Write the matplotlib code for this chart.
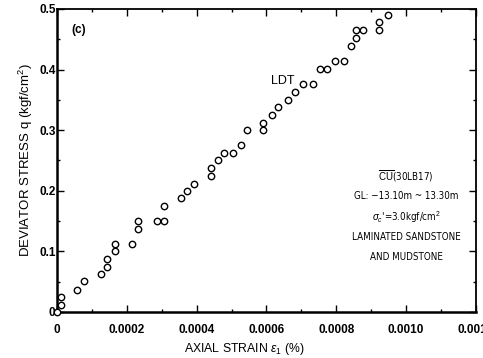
import numpy as np
import matplotlib
matplotlib.use('Agg')
import matplotlib.pyplot as plt
from matplotlib import font_manager
from matplotlib.ticker import MultipleLocator

plt.rcParams['font.family'] = ['Liberation Sans', 'DejaVu Sans']
plt.rcParams['mathtext.fontset'] = 'custom'
plt.rcParams['mathtext.rm'] = 'Liberation Sans'
plt.rcParams['mathtext.it'] = 'Liberation Sans:italic'

# pick a condensed face for the note block if one is installed
fonts = font_manager.fontManager.ttflist
names = {f.name for f in fonts}
note_font = dict(family='Liberation Sans', fontsize=6.6)
if 'Liberation Sans Narrow' in names:
    note_font = dict(family='Liberation Sans Narrow', fontsize=7.6)
elif any(f.name == 'DejaVu Sans' and 'condensed' in str(f.stretch) for f in fonts):
    note_font = dict(family='DejaVu Sans', fontstretch='condensed', fontsize=7.0)

# axial strain (%) and deviator stress q (kgf/cm2), LDT readings
strain = [0.0, 0.0000115, 0.0000115, 0.0000585, 0.0000768, 0.000125, 0.000144, 0.000144,
          0.000165, 0.000165, 0.000214, 0.000233, 0.000233, 0.000287, 0.000306, 0.000306,
          0.000354, 0.000372, 0.000392, 0.00044, 0.00044, 0.00046, 0.000477, 0.000505,
          0.000526, 0.000544, 0.000591, 0.000591, 0.000615, 0.000633, 0.000663, 0.000683,
          0.000704, 0.000734, 0.000753, 0.000774, 0.000795, 0.000821, 0.000841, 0.000857,
          0.000857, 0.000876, 0.000923, 0.000923, 0.000947]
stress = [0.0, 0.0115, 0.025, 0.037, 0.051, 0.062, 0.075, 0.0875,
          0.100, 0.113, 0.113, 0.1375, 0.150, 0.150, 0.150, 0.175,
          0.1875, 0.200, 0.212, 0.224, 0.2376, 0.250, 0.262, 0.262,
          0.275, 0.300, 0.300, 0.3125, 0.325, 0.338, 0.350, 0.3635,
          0.3757, 0.3757, 0.401, 0.401, 0.414, 0.414, 0.439, 0.452,
          0.465, 0.465, 0.465, 0.478, 0.4906]

xticks = [0, 0.0002, 0.0004, 0.0006, 0.0008, 0.0010, 0.0012]
xticklabels = ['0', '0.0002', '0.0004', '0.0006', '0.0008', '0.0010', '0.0012']
yticks = [0, 0.1, 0.2, 0.3, 0.4, 0.5]
yticklabels = ['0', '0.1', '0.2', '0.3', '0.4', '0.5']

notes = [r'$\overline{\mathrm{CU}}$(30LB17)',
         'GL: \u221213.10m ~ 13.30m',
         r"$\sigma_c$'=3.0kgf/cm$^2$",
         'LAMINATED SANDSTONE',
         'AND MUDSTONE']
note_y = [0.2244, 0.1914, 0.1568, 0.1238, 0.0908]

fig = plt.figure(figsize=(4.83, 3.58), dpi=100)
ax = fig.add_axes([0.118, 0.1285, 0.8675, 0.8465])

ax.plot(strain, stress, linestyle='none', marker='o', markersize=4.6,
        markerfacecolor='white', markeredgecolor='black', markeredgewidth=1.0,
        clip_on=False, zorder=3)

ax.set_xlim(0, 0.0012)
ax.set_ylim(0, 0.5)
ax.set_xticks(xticks)
ax.set_xticklabels(xticklabels)
ax.set_yticks(yticks)
ax.set_yticklabels(yticklabels)
ax.xaxis.set_minor_locator(MultipleLocator(0.0001))
ax.yaxis.set_minor_locator(MultipleLocator(0.05))

for lab in ax.get_xticklabels() + ax.get_yticklabels():
    lab.set_fontweight('bold')
    lab.set_fontsize(8.5)

ax.tick_params(which='both', direction='in', top=True, right=True, width=1.0)
ax.tick_params(which='major', length=5)
ax.tick_params(axis='x', which='major', pad=9)
ax.tick_params(axis='y', which='major', pad=1)
ax.tick_params(which='minor', length=2.5)

ax.spines['left'].set_linewidth(1.8)
ax.spines['bottom'].set_linewidth(1.8)
ax.spines['top'].set_linewidth(1.3)
ax.spines['right'].set_linewidth(1.3)

ax.set_xlabel(r'AXIAL STRAIN $\epsilon_1$ (%)', fontsize=8.8)
ax.xaxis.set_label_coords(0.446, -0.097)
ax.set_ylabel(r'DEVIATOR STRESS q (kgf/cm$^2$)', fontsize=9.5)
ax.yaxis.set_label_coords(-0.052, 0.5)

ax.text(0.00004, 0.465, '(c)', fontsize=8.5, fontweight='bold', va='center')
ax.text(0.000612, 0.381, 'LDT', fontsize=9, va='center')

for txt, yv in zip(notes, note_y):
    ax.text(0.001, yv, txt, ha='center', va='center', **note_font)

fig.savefig('out.png', dpi=100)
